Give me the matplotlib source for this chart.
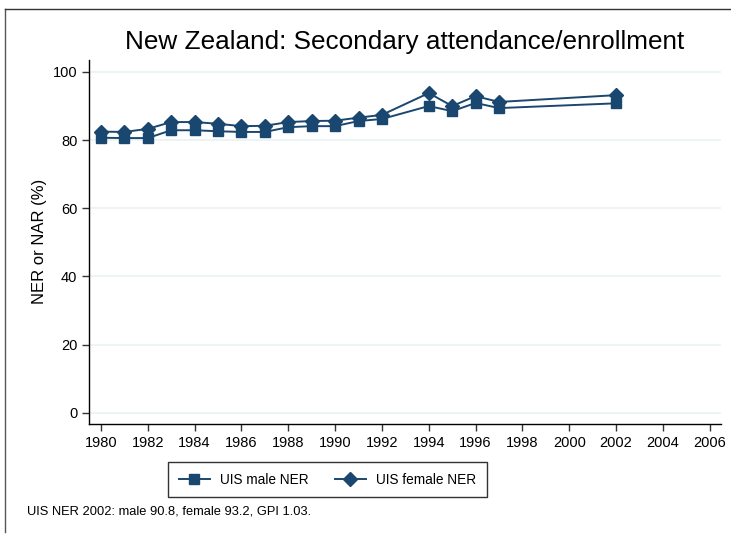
import numpy as np
import matplotlib
matplotlib.use("Agg")
import matplotlib.pyplot as plt
from matplotlib.lines import Line2D

plt.rcParams['font.family'] = ['Liberation Sans', 'DejaVu Sans']

years = [1980, 1981, 1982, 1983, 1984, 1985, 1986, 1987, 1988, 1989,
         1990, 1991, 1992, 1994, 1995, 1996, 1997, 2002]
male_ner = [80.7, 80.6, 80.6, 82.9, 82.9, 82.6, 82.4, 82.4, 83.8, 84.1,
            84.1, 85.6, 86.2, 90.0, 88.5, 90.9, 89.4, 90.8]
female_ner = [82.5, 82.4, 83.3, 85.3, 85.3, 84.8, 84.1, 84.2, 85.3, 85.6,
              85.7, 86.6, 87.4, 93.8, 90.0, 92.9, 91.2, 93.2]
xticks = list(range(1980, 2007, 2))
yticks = [0, 20, 40, 60, 80, 100]

col = '#1a476f'
grid = '#eaf2f3'

fig = plt.figure(figsize=(7.31, 5.36), dpi=100)
ax = fig.add_axes([0.122, 0.2095, 0.865, 0.6785])

for y in yticks:
    ax.axhline(y, color=grid, lw=1.2, zorder=0)

ax.plot(years, male_ner, color=col, lw=1.4, marker='s', ms=7, label='UIS male NER')
ax.plot(years, female_ner, color=col, lw=1.4, marker='D', ms=7, label='UIS female NER')

ax.set_xlim(1979.5, 2006.5)
ax.set_ylim(-3.2, 103.5)
ax.set_xticks(xticks)
ax.set_yticks(yticks)
ax.tick_params(labelsize=10.5, length=5, width=1, color='#333333', direction='out')
for s in ['top', 'right']:
    ax.spines[s].set_visible(False)
for s in ['left', 'bottom']:
    ax.spines[s].set_color('black')
    ax.spines[s].set_linewidth(1)
ax.set_ylabel('NER or NAR (%)', fontsize=12, labelpad=4)

fig.text(405 / 731, 1 - 42 / 536, 'New Zealand: Secondary attendance/enrollment',
         ha='center', va='center', fontsize=18.8)

leg = fig.legend(loc='center', bbox_to_anchor=(327.5 / 731, 1 - 479.5 / 536), ncol=2,
                 fontsize=9.8, frameon=True, fancybox=False, edgecolor='black',
                 handlelength=2.3, handletextpad=0.75, numpoints=1,
                 columnspacing=1.9, borderpad=0.8, borderaxespad=0)
leg.get_frame().set_linewidth(1)

fig.text(27 / 731, 1 - 511 / 536, 'UIS NER 2002: male 90.8, female 93.2, GPI 1.03.',
         ha='left', va='center', fontsize=9.3)

fig.add_artist(Line2D([5 / 731, 5 / 731], [1 - 532 / 536, 1 - 9 / 536],
                      transform=fig.transFigure, color='#555555', lw=1))
fig.add_artist(Line2D([5 / 731, 1], [1 - 9 / 536, 1 - 9 / 536],
                      transform=fig.transFigure, color='#333333', lw=1))

fig.savefig('out.png', dpi=100)
